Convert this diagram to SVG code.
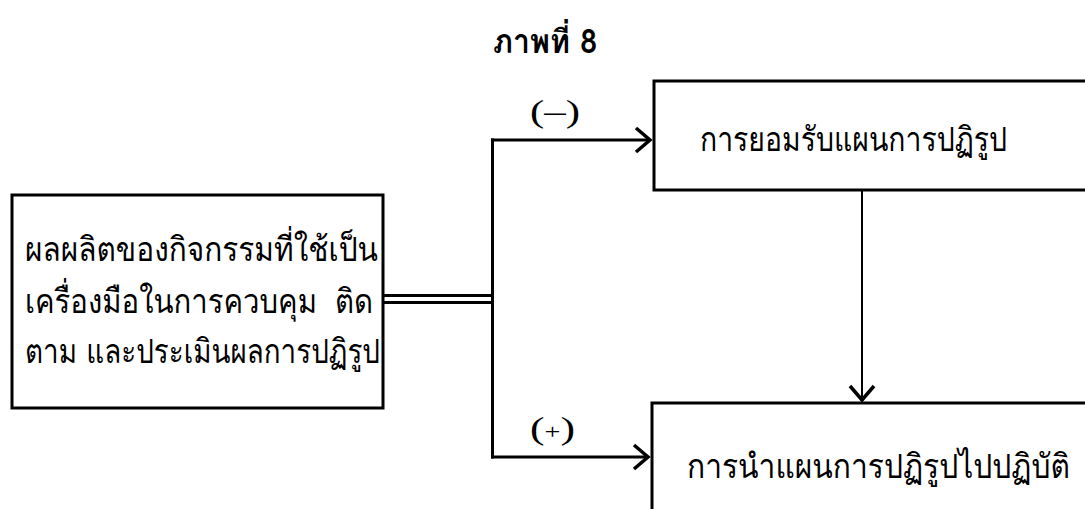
<svg xmlns="http://www.w3.org/2000/svg" width="1085" height="509" viewBox="0 0 1085 509">
  <defs>
    <style>
      .box { fill: #fff; stroke: #000; stroke-width: 3; }
      .txt { font-family: "Loma", "Garuda", "Norasi", "Noto Sans Thai", "Noto Sans", "DejaVu Sans", sans-serif; font-size: 34px; fill: #000; }
      .title { font-family: "Loma", "Garuda", "Noto Sans Thai", "Noto Sans", "DejaVu Sans", sans-serif; font-size: 33px; font-weight: bold; fill: #000; }
      .sign { font-family: "Liberation Serif", serif; font-size: 31px; fill: #000; }
      .line { fill: none; stroke: #000; stroke-width: 3; }
      .thin { fill: none; stroke: #000; stroke-width: 2; }
    </style>
    <marker id="chev" markerUnits="userSpaceOnUse" markerWidth="20" markerHeight="30" viewBox="-2 -2 20 30" refX="14" refY="12" orient="auto">
      <path d="M0,0 L14,12 L0,24" fill="none" stroke="#000" stroke-width="3.5"/>
    </marker>
  </defs>

  <rect width="1085" height="509" fill="#fff"/>

  <text class="title" x="493" y="53" textLength="104" lengthAdjust="spacingAndGlyphs">ภาพที่ 8</text>

  <g id="connectors">
    <line class="line" x1="383" y1="295.5" x2="491" y2="295.5" stroke-width="2.5"/>
    <line class="line" x1="383" y1="302.5" x2="491" y2="302.5" stroke-width="2.5"/>
    <line class="line" x1="492.5" y1="138.5" x2="492.5" y2="458.5"/>
    <line class="line" x1="491" y1="140" x2="650" y2="140" marker-end="url(#chev)"/>
    <line class="line" x1="491" y1="457" x2="648" y2="457" marker-end="url(#chev)"/>
    <line class="thin" x1="862" y1="190" x2="862" y2="400" marker-end="url(#chev)"/>
    <text class="sign" x="530" y="122" textLength="50" lengthAdjust="spacingAndGlyphs">(–)</text>
    <text class="sign" x="530" y="439" textLength="45" lengthAdjust="spacingAndGlyphs">(<tspan font-size="20">+</tspan>)</text>
  </g>

  <g id="node-output">
    <rect class="box" x="12" y="195" width="371" height="213"/>
    <text class="txt" x="25" y="261" textLength="353" lengthAdjust="spacingAndGlyphs">ผลผลิตของกิจกรรมที่ใช้เป็น</text>
    <text class="txt" x="25" y="313" textLength="348" lengthAdjust="spacingAndGlyphs">เครื่องมือในการควบคุม&#160; ติด</text>
    <text class="txt" x="25" y="363" textLength="355" lengthAdjust="spacingAndGlyphs">ตาม และประเมินผลการปฏิรูป</text>
  </g>

  <g id="node-accept">
    <rect class="box" x="654" y="81" width="445" height="109"/>
    <text class="txt" x="700" y="151" textLength="307" lengthAdjust="spacingAndGlyphs">การยอมรับแผนการปฏิรูป</text>
  </g>

  <g id="node-implement">
    <rect class="box" x="652" y="403" width="445" height="120"/>
    <text class="txt" x="687" y="478" textLength="383" lengthAdjust="spacingAndGlyphs">การนำแผนการปฏิรูปไปปฏิบัติ</text>
  </g>
</svg>
